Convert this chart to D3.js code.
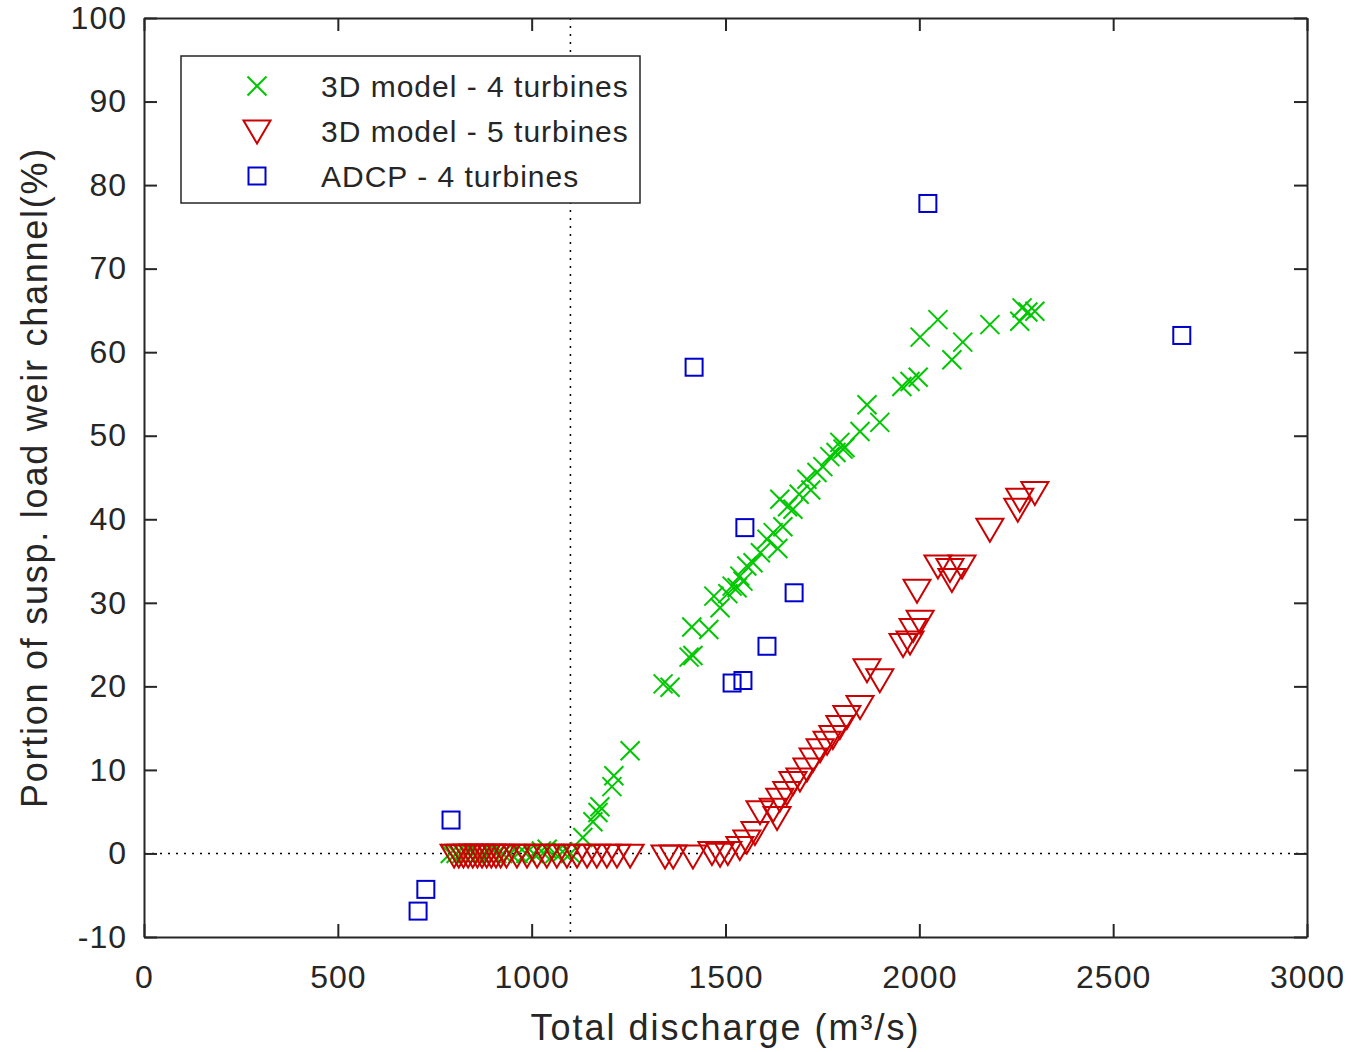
<!DOCTYPE html>
<html>
<head>
<meta charset="utf-8">
<script src="https://cdn.jsdelivr.net/npm/d3@7"></script>
<style>
  body { margin: 0; background: #fff; }
  text { font-family: "Liberation Sans", Arial, Helvetica, sans-serif; fill: #262626; }
</style>
</head>
<body>
<div id="chart"></div>
<script>
// Data: [total discharge (m3/s), portion (%)]
var model4 = [
  [790, 0], [805, 0], [820, 0], [835, 0], [850, 0], [865, 0], [880, 0], [895, 0], [910, 0],
  [925, 0], [945, 0], [965, 0], [985, 0], [1005, 0], [1025, 0.3], [1040, 0.5], [1060, 0],
  [1080, 0.2], [1100, 0],
  [1132, 1.9], [1158, 3.8], [1171, 4.9], [1176, 5.6], [1207, 8.0], [1212, 9.3], [1254, 12.3],
  [1339, 20.3], [1357, 19.9], [1406, 23.5], [1416, 23.7], [1413, 27.1], [1457, 26.8],
  [1470, 30.8], [1486, 29.4], [1506, 31.1], [1517, 32.0], [1530, 31.8], [1537, 33.2],
  [1545, 32.6], [1555, 34.4], [1571, 34.8], [1590, 36.0], [1607, 37.6], [1623, 38.4],
  [1635, 36.5], [1640, 42.4], [1648, 39.1], [1660, 41.5], [1674, 41.2], [1690, 43.0],
  [1710, 44.8], [1720, 43.5], [1736, 45.6], [1751, 46.3], [1769, 47.5], [1785, 48.0],
  [1795, 49.2], [1803, 48.4], [1808, 48.6], [1847, 50.5], [1865, 53.7], [1898, 51.6],
  [1955, 55.9], [1976, 56.5], [1997, 57.0], [2002, 61.8], [2048, 63.9], [2084, 59.1],
  [2112, 61.2], [2182, 63.3], [2259, 63.7], [2265, 65.3], [2280, 64.8], [2298, 64.9]
];

var model5 = [
  [800, -0.2], [812, -0.2], [824, -0.2], [836, -0.2], [848, -0.2], [860, -0.2], [872, -0.2],
  [884, -0.2], [896, -0.2], [908, -0.2], [920, -0.2], [935, -0.2], [962, -0.2], [988, -0.2],
  [1014, -0.2], [1039, -0.2], [1065, -0.2], [1091, -0.2], [1117, -0.2], [1143, -0.2],
  [1168, -0.2], [1194, -0.2], [1220, -0.2], [1254, -0.2],
  [1344, -0.3], [1365, -0.3], [1416, -0.3], [1465, 0.1], [1486, -0.1], [1506, 0.1],
  [1537, 0.7], [1555, 1.5], [1576, 2.5], [1589, 5.0], [1623, 5.3], [1633, 4.3], [1640, 6.5],
  [1658, 7.3], [1674, 8.5], [1692, 8.9], [1710, 10.1], [1726, 11.3], [1744, 12.4],
  [1762, 13.3], [1777, 14.0], [1795, 15.2], [1813, 16.4], [1847, 17.6], [1865, 22.0],
  [1898, 20.8], [1958, 25.0], [1976, 25.3], [1984, 26.8], [2002, 27.8], [1994, 31.5],
  [2048, 34.4], [2079, 34.0], [2084, 32.8], [2110, 34.4], [2182, 38.8], [2254, 41.2],
  [2259, 42.4], [2298, 43.2]
];

var adcp = [
  [707, -6.9], [727, -4.3], [792, 4.0], [1419, 58.2], [1550, 39.0], [1517, 20.4],
  [1545, 20.7], [1607, 24.8], [1677, 31.2], [2022, 77.8], [2677, 62.0]
];

var seriesNames = ["3D model - 4 turbines", "3D model - 5 turbines", "ADCP - 4 turbines"];
var xTicks = [0, 500, 1000, 1500, 2000, 2500, 3000];
var yTicks = [-10, 0, 10, 20, 30, 40, 50, 60, 70, 80, 90, 100];

var W = 1351, H = 1052;
var margin = { top: 18, right: 44, bottom: 115, left: 144 };

var svg = d3.select("#chart").append("svg")
    .attr("width", W)
    .attr("height", H);

var x = d3.scaleLinear().domain([0, 3000]).range([margin.left, W - margin.right]);
var y = d3.scaleLinear().domain([-10, 100]).range([H - margin.bottom, margin.top]);

var green = "#00c800", red = "#cc0000", blue = "#0000cc", axisCol = "#262626";

// reference lines
svg.append("line")
    .attr("x1", x(1100)).attr("x2", x(1100))
    .attr("y1", y(100)).attr("y2", y(-10))
    .attr("stroke", "#000").attr("stroke-width", 1.5)
    .attr("stroke-dasharray", "2,6");
svg.append("line")
    .attr("x1", x(0)).attr("x2", x(3000))
    .attr("y1", y(0)).attr("y2", y(0))
    .attr("stroke", "#000").attr("stroke-width", 1.5)
    .attr("stroke-dasharray", "2,6");

// markers
function cross(s) {
    return "M" + (-s) + "," + (-s) + "L" + s + "," + s + "M" + (-s) + "," + s + "L" + s + "," + (-s);
}
var triPath = "M-13.5,-10.5L13.5,-10.5L0,12.5Z";

svg.append("g").selectAll("path")
    .data(model4).enter().append("path")
    .attr("transform", function (d) { return "translate(" + x(d[0]) + "," + y(d[1]) + ")"; })
    .attr("d", cross(9.5))
    .attr("fill", "none").attr("stroke", green).attr("stroke-width", 2);

svg.append("g").selectAll("path")
    .data(model5).enter().append("path")
    .attr("transform", function (d) { return "translate(" + x(d[0]) + "," + y(d[1]) + ")"; })
    .attr("d", triPath)
    .attr("fill", "none").attr("stroke", red).attr("stroke-width", 2);

svg.append("g").selectAll("rect")
    .data(adcp).enter().append("rect")
    .attr("x", function (d) { return x(d[0]) - 8.5; })
    .attr("y", function (d) { return y(d[1]) - 8.5; })
    .attr("width", 17).attr("height", 17)
    .attr("fill", "none").attr("stroke", blue).attr("stroke-width", 2);

// axes (ticks inside, box on)
var fmt = function (d) { return String(d); };
var axBottom = svg.append("g")
    .attr("transform", "translate(0," + y(-10) + ")")
    .call(d3.axisBottom(x).tickValues(xTicks).tickFormat(fmt).tickSizeInner(-13).tickSizeOuter(0).tickPadding(28));
var axTop = svg.append("g")
    .attr("transform", "translate(0," + y(100) + ")")
    .call(d3.axisTop(x).tickValues(xTicks).tickSizeInner(-13).tickSizeOuter(0).tickFormat(""));
var axLeft = svg.append("g")
    .attr("transform", "translate(" + x(0) + ",0)")
    .call(d3.axisLeft(y).tickValues(yTicks).tickFormat(fmt).tickSizeInner(-13).tickSizeOuter(0).tickPadding(17));
var axRight = svg.append("g")
    .attr("transform", "translate(" + x(3000) + ",0)")
    .call(d3.axisRight(y).tickValues(yTicks).tickSizeInner(-13).tickSizeOuter(0).tickFormat(""));

[axBottom, axTop, axLeft, axRight].forEach(function (a) {
    a.select(".domain").attr("stroke", axisCol).attr("stroke-width", 2);
    a.selectAll(".tick line").attr("stroke", axisCol).attr("stroke-width", 2);
    a.selectAll("text").style("font-size", "32px").style("letter-spacing", "1px")
        .attr("fill", axisCol)
        .style("font-family", "'Liberation Sans', Arial, sans-serif");
});

// axis labels
svg.append("text")
    .attr("x", (x(0) + x(3000)) / 2)
    .attr("y", 1040)
    .attr("text-anchor", "middle")
    .style("font-size", "36px")
    .style("letter-spacing", "2px")
    .text("Total discharge (m\u00b3/s)");

svg.append("text")
    .attr("transform", "translate(47," + (y(-10) + y(100)) / 2 + ") rotate(-90)")
    .attr("text-anchor", "middle")
    .style("font-size", "36px")
    .style("letter-spacing", "1.75px")
    .text("Portion of susp. load weir channel(%)");

// legend
var lg = svg.append("g");
lg.append("rect")
    .attr("x", 181).attr("y", 56)
    .attr("width", 459).attr("height", 147)
    .attr("fill", "#fff").attr("stroke", axisCol).attr("stroke-width", 1.5);

var rows = [86, 131, 176];
lg.append("path")
    .attr("transform", "translate(257," + rows[0] + ")")
    .attr("d", cross(9.5))
    .attr("fill", "none").attr("stroke", green).attr("stroke-width", 2);
lg.append("path")
    .attr("transform", "translate(257," + rows[1] + ")")
    .attr("d", triPath)
    .attr("fill", "none").attr("stroke", red).attr("stroke-width", 2);
lg.append("rect")
    .attr("x", 257 - 8.5).attr("y", rows[2] - 8.5)
    .attr("width", 17).attr("height", 17)
    .attr("fill", "none").attr("stroke", blue).attr("stroke-width", 2);

lg.selectAll("text.lbl")
    .data(seriesNames).enter().append("text")
    .attr("class", "lbl")
    .attr("x", 321)
    .attr("y", function (d, i) { return rows[i]; })
    .attr("dy", "0.36em")
    .style("font-size", "30px")
    .style("letter-spacing", "1px")
    .attr("fill", "#000")
    .text(function (d) { return d; });
</script>
</body>
</html>
